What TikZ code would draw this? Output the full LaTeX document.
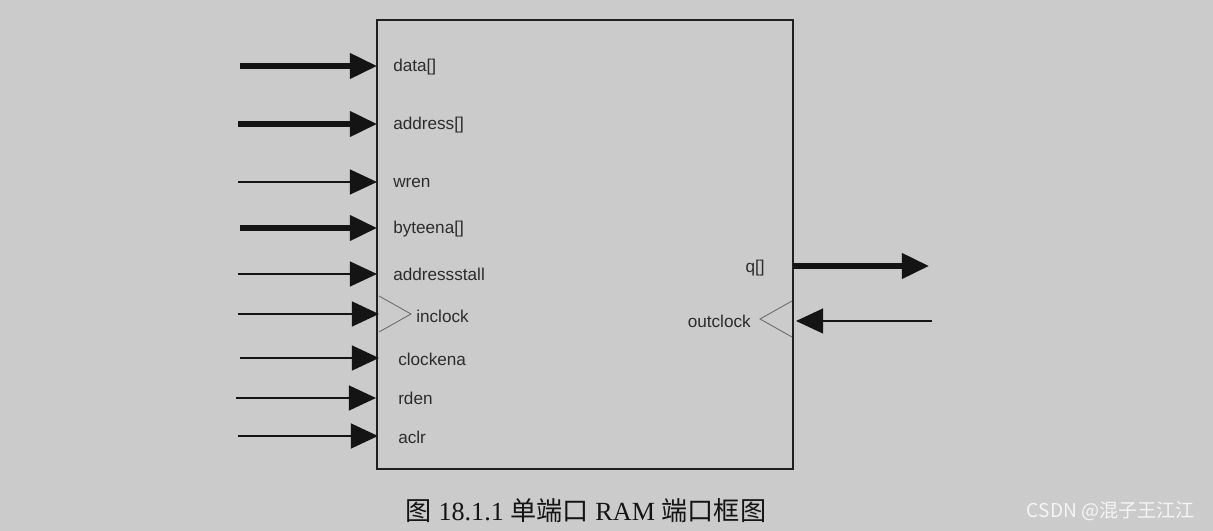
\documentclass[tikz,border=0pt]{standalone}
\usepackage{fontspec}
\setmainfont{Liberation Serif}
\setsansfont{Liberation Sans}
\newfontfamily\cjk{Noto Sans CJK SC}
\usetikzlibrary{arrows.meta}
\definecolor{bggray}{RGB}{203,203,203}
\definecolor{ink}{RGB}{20,20,20}

\tikzset{
  pin/.style={-{Triangle[length=0.68cm,width=0.62cm]}, line width=0.06cm, draw=ink},
  bus/.style={pin, line width=0.13cm},
  port/.style={anchor=west, inner sep=0pt, text=ink!90, font=\sffamily\fontsize{12.2}{14}\selectfont},
  clk/.style={draw=ink!65, line width=0.02cm},
}

\begin{document}
\begin{tikzpicture}[x=0.025cm, y=-0.025cm]
    % arka plan
    \fill[bggray] (0,0) rectangle (1213,531);
    \useasboundingbox (0,0) rectangle (1213,531);

    % RAM kutusu
    \node[draw=ink!95, line width=0.055cm, minimum width=10.4cm, minimum height=11.225cm, inner sep=0pt] (ram) at (585,244.5) {};

    % giris uclari
    \coordinate (data-in) at (240,66);         \coordinate (data-pin) at (377,66);
    \coordinate (address-in) at (238,124);     \coordinate (address-pin) at (377,124);
    \coordinate (wren-in) at (238,182);        \coordinate (wren-pin) at (377,182);
    \coordinate (byteena-in) at (240,228);     \coordinate (byteena-pin) at (377,228);
    \coordinate (stall-in) at (238,274);       \coordinate (stall-pin) at (377,274);
    \coordinate (inclock-in) at (238,314);     \coordinate (inclock-pin) at (379,314);
    \coordinate (clockena-in) at (240,358);    \coordinate (clockena-pin) at (379,358);
    \coordinate (rden-in) at (236,398);        \coordinate (rden-pin) at (376,398);
    \coordinate (aclr-in) at (238,436);        \coordinate (aclr-pin) at (378,436);

    % cikis uclari
    \coordinate (q-pin) at (793,266);          \coordinate (q-out) at (929,266);
    \coordinate (outclock-in) at (932,321);    \coordinate (outclock-pin) at (796,321);

    % oklar
    \draw[bus] (data-in) -- (data-pin);
    \draw[bus] (address-in) -- (address-pin);
    \draw[pin] (wren-in) -- (wren-pin);
    \draw[bus] (byteena-in) -- (byteena-pin);
    \draw[pin] (stall-in) -- (stall-pin);
    \draw[pin] (inclock-in) -- (inclock-pin);
    \draw[pin] (clockena-in) -- (clockena-pin);
    \draw[pin] (rden-in) -- (rden-pin);
    \draw[pin] (aclr-in) -- (aclr-pin);
    \draw[bus] (q-pin) -- (q-out);
    \draw[pin] (outclock-in) -- (outclock-pin);

    % saat ucgenleri
    \draw[clk] (379,296) -- (411,314) -- (379,332);
    \draw[clk] (792,301) -- (760,319) -- (792,337);

    % etiketler
    \node[port] (data) at (393,67) {data[]};
    \node[port] (address) at (393,125) {address[]};
    \node[port] (wren) at (393,183) {wren};
    \node[port] (byteena) at (393,229) {byteena[]};
    \node[port] (stall) at (393,274) {addressstall};
    \node[port] (inclock) at (416,316) {inclock};
    \node[port] (clockena) at (398,359) {clockena};
    \node[port] (rden) at (398,398) {rden};
    \node[port] (aclr) at (398,437) {aclr};
    \node[port, anchor=east] (q) at (765,268) {q[]};
    \node[port, anchor=east] (outclock) at (751,321) {outclock};

    % baslik
    \node[inner sep=0pt, text=ink, font=\fontsize{18.6}{21}\selectfont] (caption) at (586,511)
        {{\cjk 图} 18.1.1 {\cjk 单端口} RAM {\cjk 端口框图}};
    \node[inner sep=0pt, text=white!92!gray, font=\cjk\fontsize{13.6}{16}\selectfont] (mark) at (1111,511)
        {CSDN @混子王江江};
\end{tikzpicture}
\end{document}
